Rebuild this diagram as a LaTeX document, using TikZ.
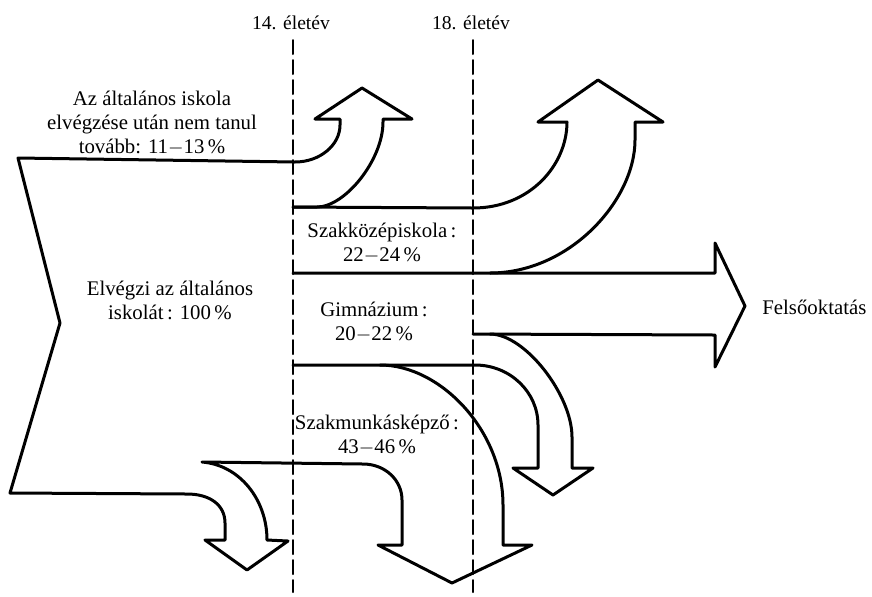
\documentclass[tikz,border=0pt]{standalone}
\usepackage{fontspec}
\setmainfont{Liberation Serif}
\usetikzlibrary{positioning}

\begin{document}
\begin{tikzpicture}[line cap=round,line join=round,x=0.5pt,y=-0.5pt,
  flow/.style={line width=1.5pt},
  ageline/.style={line width=1pt,dash pattern=on 7pt off 3pt},
  agelbl/.style={font=\fontsize{9.8}{11}\selectfont,inner sep=0pt},
  lbl/.style={align=center,font=\fontsize{10.4}{12}\selectfont,inner sep=0pt}]
\useasboundingbox (0,0) rectangle (872,596);
\foreach \x/\n in {293/14,473/18}{
\node[agelbl] (age\n) at (\x-2,23) {\n. életév};
\draw[ageline] (\x,40) -- (\x,592);
}
\draw[flow] (293,207) -- (317,207) .. controls (345,207) and (383,160) .. (383,122) -- (383,119) -- (412,119) -- (362,88) -- (315,119) -- (340,119) -- (340,125) .. controls (340,145) and (320,162) .. (295,162) -- (18,158) -- (60,323) -- (10,493) -- (187,494) .. controls (210,494) and (225,505) .. (225,523) -- (225,540) -- (205,540) -- (247,570) -- (288,541) -- (267,540) .. controls (267,500) and (240,465) .. (202,462) -- (363,464) .. controls (385,464) and (402,480) .. (402,500) -- (402,545) -- (378,545) -- (452,583) -- (532,545) -- (503,545) -- (503,505) .. controls (503,430) and (440,365) .. (380,365) -- (293,365);
\draw[flow] (380,365) -- (475,365) .. controls (510,365) and (538,392) .. (538,425) -- (538,468) -- (513,468) -- (553,495) -- (593,468) -- (572,468) -- (572,437) .. controls (572,395) and (525,334) .. (490,334);
\draw[flow] (473,334) -- (715,335) -- (715,367) -- (745,306) -- (715,243) -- (715,273) -- (293,273);
\draw[flow] (490,273) .. controls (570,273) and (635,200) .. (635,140) -- (635,122) -- (663,122) -- (598,80) -- (538,122) -- (567,122) .. controls (567,165) and (530,208) .. (473,208) -- (293,207);
\node[lbl] (quit) at (152,123) {Az általános iskola\\elvégzése után nem tanul\\tovább: 11$-$13\,\%};
\node[lbl] (total) at (170,300) {Elvégzi az általános\\iskolát\,: 100\,\%};
\node[lbl] (szkoz) at (382,243) {Szakközépiskola\,:\\22$-$24\,\%};
\node[lbl] (gimn) at (374,322) {Gimnázium\,:\\20$-$22\,\%};
\node[lbl] (szmunk) at (377,435) {Szakmunkásképző\,:\\43$-$46\,\%};
\node[lbl,anchor=west] (felso) at (762,307) {Felsőoktatás};
\end{tikzpicture}
\end{document}
